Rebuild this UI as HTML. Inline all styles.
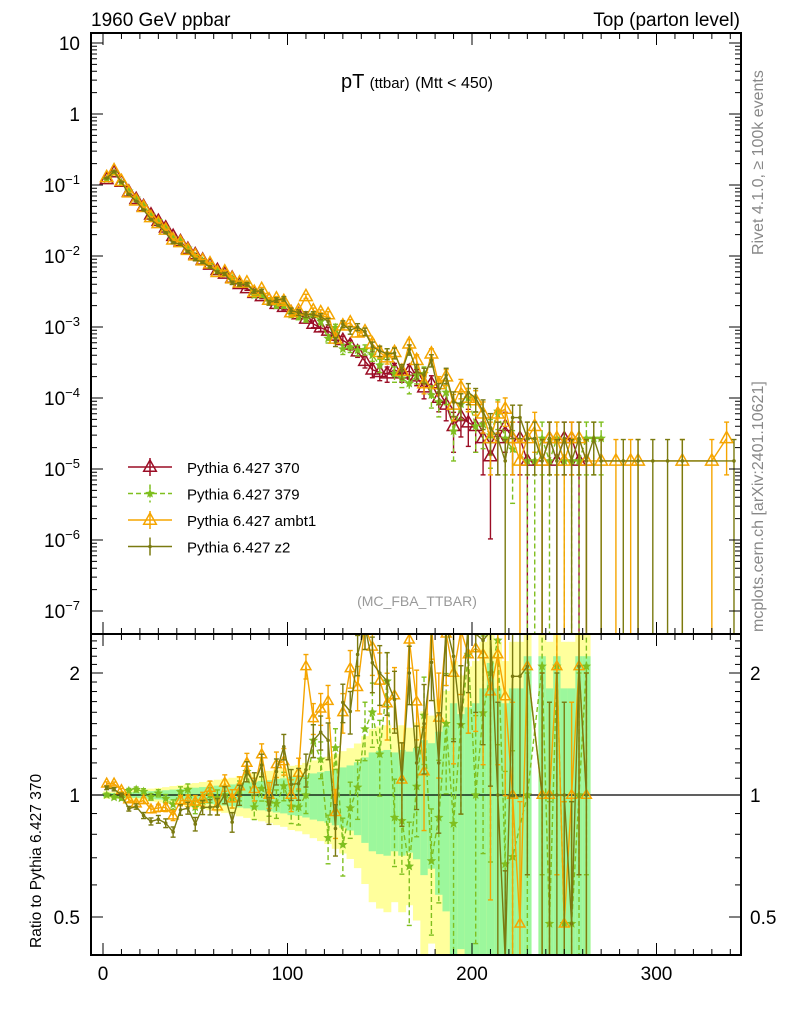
<!DOCTYPE html>
<html><head><meta charset="utf-8"><style>
html,body{margin:0;padding:0;background:#fff;width:786px;height:1024px;overflow:hidden;}
svg{display:block;font-family:"Liberation Sans",sans-serif;}
</style></head><body>
<svg id="chart" width="786" height="1024" viewBox="0 0 786 1024" xmlns="http://www.w3.org/2000/svg">
<defs>
<clipPath id="cm"><rect x="91" y="33" width="650" height="601"/></clipPath>
<clipPath id="cr"><rect x="91" y="634" width="650" height="321"/></clipPath>
</defs>
<g id="bands" clip-path="url(#cr)"></g>
<g id="ratio" clip-path="url(#cr)"></g>
<g id="main" clip-path="url(#cm)"></g>
<g id="axes"></g>
<text x="91" y="26" font-size="19">1960 GeV ppbar</text>
<text x="740" y="26" font-size="19" text-anchor="end">Top (parton level)</text>
<text x="417" y="88" font-size="20" text-anchor="middle">pT <tspan font-size="15">(ttbar)</tspan> <tspan font-size="16">(Mtt &lt; 450)</tspan></text>
<text x="417" y="606" font-size="14" fill="#999" text-anchor="middle">(MC_FBA_TTBAR)</text>
<text transform="translate(763,255) rotate(-90)" font-size="16" fill="#888">Rivet 4.1.0, ≥ 100k events</text>
<text transform="translate(763,632) rotate(-90)" font-size="16" fill="#888">mcplots.cern.ch [arXiv:2401.10621]</text>
<text transform="translate(41,948) rotate(-90)" font-size="15.5">Ratio to Pythia 6.427 370</text>
<g id="legend"></g>
</svg>
<script>
const binCenters=[2,6,10,14,18,22,26,30,34,38,42,46,50,54,58,62,66,70,74,78,82,86,90,94,98,102,106,110,114,118,122,126,130,134,138,142,146,150,154,158,162,166,170,174,178,182,186,190,194,198,202,206,210,214,218,222,226,230,234,238,242,246,250,254,258,262,266,270,274,278,282,286,290,294,298,302,306,310,314,318,322,326,330,334,338,342];
const s370=[.12,.15,.11,.08,.063,.05,.038,.031,.025,.019,.016,.0125,.0105,.0088,.0075,.0063,.0056,.0049,.004,.0035,.003,.0027,.0024,.0021,.0019,.0016,.0015,.0013,.0011,.00098,.00088,.00075,.00065,.00056,.00045,.00033,.00025,.00023,.00022,.00025,.00022,.00024,.0002,.00014,.00016,.0001,.00008,.00004,.000055,.000045,.00004,.000027,.000015,.000027,.00004,.000027,.000027,.000013,null,.000013,.000027,.000013,.000027,.000027,.000013,.000013,null,null,null,null,null,null,null,null,null,null,null,null,null,null,null,null,null,null,null,null];
const s379=[.12,.148,.108,.082,.065,.051,.0376,.0313,.0245,.018,.0163,.0129,.0098,.0085,.0075,.0062,.0056,.0048,.0041,.004,.0028,.0028,.0023,.002,.002,.0015,.0014,.0013,.0015,.0012,.00069,.00098,.00049,.00052,.00047,.00048,.0004,.00029,.00042,.00022,.00019,.00016,.00021,.00022,.00011,.000088,.00012,.000034,.000082,.0001,.00004,.000043,.00003,.000065,.000027,.000019,null,.000013,.000013,.000027,.000013,.000027,.000013,.000013,.000013,.000027,.000027,.000027,null,null,null,null,null,null,null,null,null,null,null,null,null,null,null,null,null,null];
const sAmbt1=[.128,.16,.113,.078,.06,.0485,.035,.0288,.0233,.0169,.0155,.0121,.0101,.0086,.0078,.0059,.006,.0048,.0042,.0042,.0031,.0034,.0024,.0025,.0023,.0016,.0017,.0027,.0017,.0016,.0015,.00068,.00104,.00115,.00083,.00086,.00058,.00044,.00037,.00044,.00024,.00058,.00034,.00016,.00042,.000155,.0002,.00008,.00014,.0001,.000092,.00006,.000027,.00006,.00007,.000027,.000013,.000027,.00004,.000013,.000027,.000027,.000013,.000027,.000027,.000013,null,.000013,null,.000013,null,.000013,.000013,null,null,null,null,null,.000013,null,null,null,.000013,null,.000027,null];
const sZ2=[.125,.155,.11,.074,.059,.0445,.0327,.027,.0213,.0154,.0147,.0116,.0089,.0082,.007,.0059,.0056,.0042,.004,.004,.0032,.0032,.0022,.0024,.0025,.0017,.0016,.0015,.0015,.0014,.0012,.00062,.0011,.0009,.001,.00086,.00053,.00046,.00042,.00043,.00024,.00048,.00024,.00021,.00034,.00012,.00021,.000088,.000082,.00012,.0001,.000065,.000038,.000027,.000013,.000053,.000053,.000027,.000027,.000013,.000027,.000013,.000027,.000013,.000027,.000013,.000027,.000013,null,null,.000013,null,.000013,null,.000013,null,.000013,null,.000013,null,null,null,null,null,null,.000013];
const xTicks=[0,100,200,300];
const yDecades=[-7,-6,-5,-4,-3,-2,-1,0,1];
const ratioTicks=[0.5,1,2];

const NS='http://www.w3.org/2000/svg';
const UNIT=1.3e-5;
const X=v=>103+v*1.845;
const Y=v=>43+(1-Math.log10(v))*71;
const RY=r=>795-Math.log10(r)*405.3;
function mk(tag,attrs,parent){const e=document.createElementNS(NS,tag);for(const k in attrs)e.setAttribute(k,attrs[k]);parent.appendChild(e);return e;}
const gMain=document.getElementById('main'),gRatio=document.getElementById('ratio'),gBands=document.getElementById('bands'),gAxes=document.getElementById('axes'),gLeg=document.getElementById('legend');
const clampY=y=>Math.max(20,Math.min(960,y));

binCenters.forEach((c,i)=>{
  const v=s370[i];
  if(!v)return;
  const rel=Math.sqrt(UNIT/v);
  const x0=X(c-2),x1=X(c+2);
  const yhi=1+2*rel, ylo=Math.max(0.01,1-2*rel), ghi=1+1.2*rel, glo=Math.max(0.01,1-1.2*rel);
  const t1=clampY(RY(yhi)),b1=clampY(RY(ylo)),t2=clampY(RY(ghi)),b2=clampY(RY(glo));
  const y=mk('rect',{x:x0,y:t1,width:x1-x0+0.5,height:b1-t1,fill:'#ffff9c'},gBands);
  
  
  const g=mk('rect',{x:x0,y:t2,width:x1-x0+0.5,height:b2-t2,fill:'#9cf79c'},gBands);
  
  
});
mk('line',{x1:91,x2:741,y1:RY(1),y2:RY(1),stroke:'#000','stroke-width':1.2},gBands);

const series=[
 {name:'Pythia 6.427 370',data:s370,color:'#9b0d25',mark:'tri',dash:'',ratio:false},
 {name:'Pythia 6.427 379',data:s379,color:'#7fbf1f',mark:'star',dash:'5,3',ratio:true},
 {name:'Pythia 6.427 ambt1',data:sAmbt1,color:'#f5a500',mark:'tri',dash:'',ratio:true},
 {name:'Pythia 6.427 z2',data:sZ2,color:'#7a7a10',mark:'dot',dash:'',ratio:true}
];
function marker(m,x,y,col,g,sz){
  if(m==='tri'){sz=sz||7;return mk('polygon',{points:`${x},${y-sz} ${x-sz*0.9},${y+sz*0.6} ${x+sz*0.9},${y+sz*0.6}`,fill:'none',stroke:col,'stroke-width':1.5},g);}
  if(m==='star'){sz=sz||5;let p=[];for(let k=0;k<10;k++){const r=k%2?sz*0.45:sz;const a=-Math.PI/2+k*Math.PI/5;p.push((x+r*Math.cos(a)).toFixed(1)+','+(y+r*Math.sin(a)).toFixed(1));}return mk('polygon',{points:p.join(' '),fill:col},g);}
  return mk('circle',{cx:x,cy:y,r:1.8,fill:col},g);
}
function drawSeries(s,g,valFn,yFn,isRatio){
  const pts=[];
  binCenters.forEach((c,i)=>{
    const v=valFn(i); if(v===null||v===undefined)return;
    const err=valFn.err(i);
    const x=X(c),y=clampY(yFn(v));
    const lo=v-err>0?clampY(yFn(v-err)):960, hi=clampY(yFn(v+err));
    const eb=mk('line',{x1:x,x2:x,y1:hi,y2:lo,stroke:s.color,'stroke-width':1.4,'stroke-dasharray':s.dash},g);
    
    
    mk('line',{x1:x-2.5,x2:x+2.5,y1:hi,y2:hi,stroke:s.color,'stroke-width':1.4},g);
    mk('line',{x1:x-2.5,x2:x+2.5,y1:lo,y2:lo,stroke:s.color,'stroke-width':1.4},g);
    pts.push([x,y]);
  });
  const pl=mk('polyline',{points:pts.map(p=>p.join(',')).join(' '),fill:'none',stroke:s.color,'stroke-width':1.4,'stroke-dasharray':s.dash},g);
  
  
  pts.forEach(p=>{const m=marker(s.mark,p[0],p[1],s.color,g,isRatio&&s.mark==='tri'?5.5:null);
    
    });
}
series.forEach(s=>{
  const f=i=>s.data[i]; f.err=i=>Math.sqrt(s.data[i]*UNIT);
  drawSeries(s,gMain,f,Y,false);
  if(s.ratio){
    const r=i=>(s.data[i]&&s370[i])?s.data[i]/s370[i]:null;
    r.err=i=>(s.data[i]/s370[i])*Math.sqrt(UNIT/s.data[i]);
    drawSeries(s,gRatio,r,RY,true);
  }
});

[[33,634],[634,955]].forEach(([t,b],k)=>{
  const fr=mk('rect',{x:91,y:t,width:650,height:b-t,fill:'none',stroke:'#000','stroke-width':2},gAxes);
  
  
  for(let v=0;v<=340;v+=10){
    const L=v%100===0?12:6,x=X(v);
    mk('line',{x1:x,x2:x,y1:b,y2:b-L,stroke:'#000','stroke-width':1},gAxes);
    mk('line',{x1:x,x2:x,y1:t,y2:t+L,stroke:'#000','stroke-width':1},gAxes);
  }
});
xTicks.forEach(v=>{const t=mk('text',{x:X(v),y:980,'font-size':19,'text-anchor':'middle'},gAxes);t.textContent=v;
  
  });
yDecades.forEach(d=>{
  const y=Y(Math.pow(10,d));
  if(y>33&&y<634){mk('line',{x1:91,x2:103,y1:y,y2:y,stroke:'#000'},gAxes);mk('line',{x1:741,x2:729,y1:y,y2:y,stroke:'#000'},gAxes);}
  for(let m=2;m<10;m++){const ym=Y(m*Math.pow(10,d));if(ym>33&&ym<634){mk('line',{x1:91,x2:97,y1:ym,y2:ym,stroke:'#000'},gAxes);mk('line',{x1:741,x2:735,y1:ym,y2:ym,stroke:'#000'},gAxes);}}
  const t=mk('text',{x:80,y:y+7,'font-size':19,'text-anchor':'end'},gAxes);
  
  
  if(d===0)t.textContent='1';else if(d===1)t.textContent='10';
  else{t.textContent='10';const s=mk('tspan',{dy:-8,'font-size':13},t);s.textContent=String(d).replace('-','\u2212');}
});
for(let r=0.4;r<=2.5;r+=0.1){const v=Math.round(r*10)/10;const y=RY(v);if(y<634||y>955)continue;
  const L=ratioTicks.includes(v)?12:6;
  mk('line',{x1:91,x2:91+L,y1:y,y2:y,stroke:'#000'},gAxes);mk('line',{x1:741,x2:741-L,y1:y,y2:y,stroke:'#000'},gAxes);}
ratioTicks.forEach(v=>{const y=RY(v)+7;
  const a=mk('text',{x:80,y:y,'font-size':19,'text-anchor':'end'},gAxes);a.textContent=v;
  
  
  const b=mk('text',{x:750,y:y,'font-size':19},gAxes);b.textContent=v;
  
  });

series.forEach((s,i)=>{
  const y=467+i*26.5;
  const g=mk('g',{},gLeg);
  
  
  mk('line',{x1:128,x2:172,y1:y,y2:y,stroke:s.color,'stroke-width':1.5,'stroke-dasharray':s.dash},g);
  mk('line',{x1:150,x2:150,y1:y-9,y2:y+9,stroke:s.color,'stroke-width':1.5,'stroke-dasharray':s.dash},g);
  marker(s.mark,150,y,s.color,g);
  const t=mk('text',{x:187,y:y+6,'font-size':15},g);t.textContent=s.name;
});
</script>
</body></html>
